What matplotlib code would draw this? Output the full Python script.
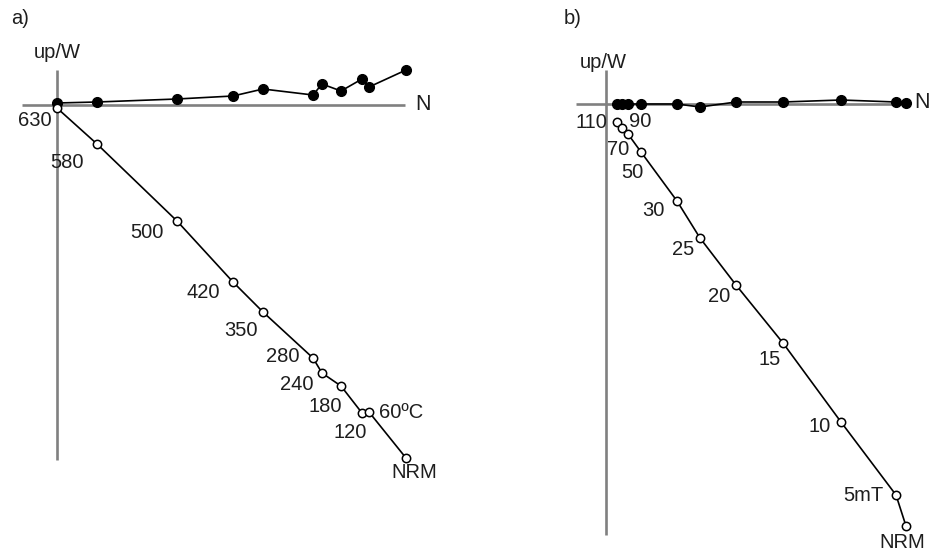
import matplotlib
matplotlib.use("Agg")
import matplotlib.pyplot as plt

plt.rcParams['font.family'] = ['Liberation Sans', 'DejaVu Sans']

# ---------------- data (arbitrary units) ----------------
# Panel a: thermal demagnetisation
steps_a = ["630", "580", "500", "420", "350", "280", "240", "180", "120", "60ºC", "NRM"]
north_a = [0.0, 4.0, 12.0, 17.6, 20.6, 25.6, 26.5, 28.4, 30.5, 31.2, 34.9]
west_a = [0.2, 0.3, 0.6, 0.9, 1.6, 1.0, 2.1, 1.4, 2.6, 1.8, 3.5]
up_a = [-0.3, -3.9, -11.6, -17.7, -20.7, -25.3, -26.8, -28.1, -30.8, -30.7, -35.3]

# Panel b: alternating-field demagnetisation
steps_b = ["110", "90", "70", "50", "30", "25", "20", "15", "10", "5mT", "NRM"]
north_b = [1.1, 1.6, 2.2, 3.5, 7.1, 9.4, 13.0, 17.7, 23.5, 29.0, 30.0]
west_b = [0.0, 0.0, 0.0, 0.0, 0.0, -0.3, 0.2, 0.2, 0.4, 0.2, 0.1]
up_b = [-1.8, -2.4, -3.0, -4.8, -9.7, -13.4, -18.1, -23.9, -31.8, -39.1, -42.2]

# ---------------- layout ----------------
W, H, DPI = 933, 556, 100
fig = plt.figure(figsize=(W / DPI, H / DPI), dpi=DPI)

# label offsets in pixels (dx, dy with y downward as in the picture)
offs_a = [(-22, 12), (-30, 18), (-30, 11), (-30, 11), (-22, 18), (-30, -1),
          (-25, 12), (-16, 21), (-12, 19), (10, 1), (8, 14)]
offs_b = [(-26, 1), (18, -6), (-10, 16), (-9, 21), (-24, 10), (-17, 12),
          (-17, 12), (-13, 17), (-21, 5), (-33, 1), (-4, 16)]

panels = [
    dict(rect=[0, 0, 466 / W, 1], xlim=(-5.7, 40.9), ylim=(-45.1, 10.5),
         hax=(-3.5, 34.8), vax=(3.5, -35.5), N=north_a, Wv=west_a, U=up_a,
         steps=steps_a, offs=offs_a, title="a)", title_xy=(-3.7, 8.7),
         upw_xy=(0.0, 5.3), n_xy=(36.6, 0.0)),
    dict(rect=[466 / W, 0, 467 / W, 1], xlim=(-14.0, 32.7), ylim=(-45.2, 10.4),
         hax=(-3.0, 29.9), vax=(3.4, -43.1), N=north_b, Wv=west_b, U=up_b,
         steps=steps_b, offs=offs_b, title="b)", title_xy=(-3.3, 8.6),
         upw_xy=(-0.3, 4.1), n_xy=(31.6, 0.1)),
]

axis_color = "#808080"
txt_color = "#1e1e1e"
fs = 14.5

for p in panels:
    ax = fig.add_axes(p["rect"])
    ax.set_xlim(*p["xlim"])
    ax.set_ylim(*p["ylim"])
    ax.axis("off")

    # axes crosses
    ax.plot(p["hax"], (0, 0), color=axis_color, lw=1.9, zorder=1, solid_capstyle="butt")
    ax.plot((0, 0), p["vax"], color=axis_color, lw=1.9, zorder=1, solid_capstyle="butt")

    # horizontal projection (filled)
    ax.plot(p["N"], p["Wv"], color="black", lw=1.2, zorder=2)
    ax.plot(p["N"], p["Wv"], ls="none", marker="o", ms=7.0, mfc="black",
            mec="black", zorder=3)
    # vertical projection (open)
    ax.plot(p["N"], p["U"], color="black", lw=1.2, zorder=2)
    ax.plot(p["N"], p["U"], ls="none", marker="o", ms=6.0, mfc="white",
            mec="black", mew=1.1, zorder=4)

    for s, x, y, (dx, dy) in zip(p["steps"], p["N"], p["U"], p["offs"]):
        ha = "left" if s == "60ºC" else "center"
        ax.annotate(s, (x, y), xytext=(dx, -dy), textcoords="offset pixels",
                    ha=ha, va="center", fontsize=fs, color=txt_color, zorder=5)

    ax.text(*p["title_xy"], p["title"], ha="center", va="center", fontsize=fs, color=txt_color)
    ax.text(*p["upw_xy"], "up/W", ha="center", va="center", fontsize=fs, color=txt_color)
    ax.text(*p["n_xy"], "N", ha="center", va="center", fontsize=fs + 1, color=txt_color)

fig.savefig("out.png", dpi=DPI)
